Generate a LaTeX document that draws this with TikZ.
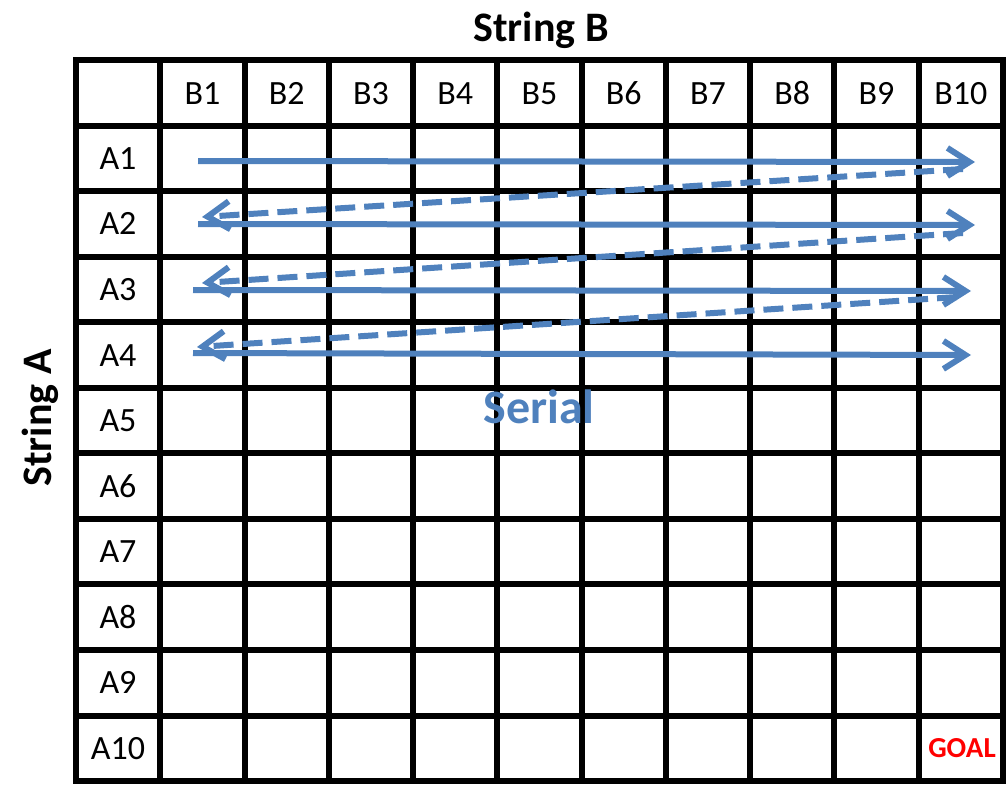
\documentclass[tikz,border=0pt]{standalone}
\usepackage{fontspec}
\setmainfont{Carlito}
\usepackage{tikz}
\usetikzlibrary{arrows.meta}
\definecolor{serialblue}{HTML}{4F81BD}
\definecolor{goalred}{HTML}{FF0000}
\tikzset{
  every picture/.style={
    line join=miter,
  },
  gridline/.style={line width=6pt, line cap=rect},
  cell label/.style={anchor=base, font=\fontsize{34}{40}\selectfont},
  axis title/.style={anchor=base, font=\fontsize{42}{48}\selectfont\bfseries},
  rowpass/.style={serialblue, line width=6pt, line cap=butt,
    -{Straight Barb[length=22pt,width=28pt]}},
  backpass/.style={rowpass, dash pattern=on 20pt off 9pt},
}

\begin{document}
\begin{tikzpicture}[x=1pt, y=-1pt]
    \useasboundingbox (0,0) rectangle (1008,785);

    % Grid
    \foreach \i in {0,...,11}
        \draw[gridline] (76+84.27*\i,60) -- (76+84.27*\i,781);
    \foreach \j in {0,...,11}
        \draw[gridline] (76,60+65.55*\j) -- (1003,60+65.55*\j);

    % Titles
    \node[axis title] (strb) at (541,41) {String B};
    \node[axis title, rotate=90] (stra) at (51,418) {String A};

    % Column labels
    \foreach \i in {1,...,10}
        \node[cell label] (b\i) at (76+84.27*\i+42.1,104) {B\i};

    % Row labels
    \foreach \j in {1,...,10}
        \node[cell label] (a\j) at (118,60+65.55*\j+43.8) {A\j};

    % Goal cell
    \node[anchor=base, goalred, font=\fontsize{29}{34}\selectfont\bfseries] (goal) at (962,757) {GOAL};

    % Pass ends
    \coordinate (p1w) at (198,161);  \coordinate (p1e) at (975,162);
    \coordinate (p2w) at (198,224);  \coordinate (p2e) at (975,225);
    \coordinate (p3w) at (193,290);  \coordinate (p3e) at (971,291);
    \coordinate (p4w) at (193,353);  \coordinate (p4e) at (971,355);
    \coordinate (r1e) at (963,169);  \coordinate (r1w) at (202,217);
    \coordinate (r2e) at (963,233);  \coordinate (r2w) at (202,283);
    \coordinate (r3e) at (957,297);  \coordinate (r3w) at (197,347);

    % Serial sweep over the rows
    \foreach \k in {1,...,4}
        \draw[rowpass] (p\k w) -- (p\k e);
    \foreach \k in {1,2,3}
        \draw[backpass] (r\k e) -- (r\k w);

    \node[anchor=base, serialblue, font=\fontsize{48}{54}\selectfont\bfseries] (serial) at (539,423) {Serial};
\end{tikzpicture}
\end{document}
